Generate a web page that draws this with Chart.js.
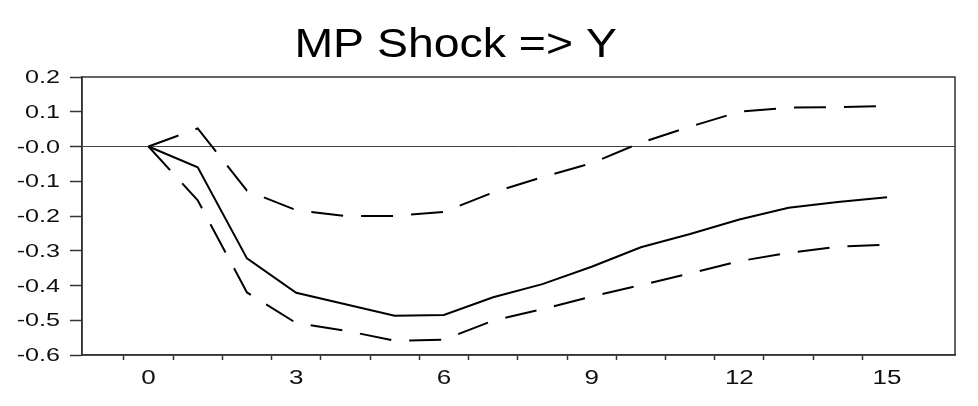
<!DOCTYPE html>
<html lang="es">
<head>
<meta charset="utf-8">
<title>MP Shock => Y</title>
<script src="https://cdn.jsdelivr.net/npm/chart.js@4/dist/chart.umd.min.js"></script>
<style>
    html, body { margin: 0; padding: 0; background: #ffffff; }
    #contenedor { width: 978px; height: 406px; position: relative; }
</style>
</head>
<body>
<div id="contenedor">
    <canvas id="grafico-impulso"></canvas>
</div>
<script>
// Datos de la función impulso-respuesta
const periodos = [0, 1, 2, 3, 4, 5, 6, 7, 8, 9, 10, 11, 12, 13, 14, 15];
const respuestaY = [0, -0.060, -0.322, -0.421, -0.454, -0.487, -0.485, -0.434,
    -0.396, -0.346, -0.290, -0.252, -0.210, -0.176, -0.160, -0.146];
const bandaSuperior = [0, 0.052, -0.127, -0.183, -0.200, -0.200, -0.188, -0.132,
    -0.088, -0.048, 0.011, 0.057, 0.100, 0.112, 0.113, 0.117];
const bandaInferior = [0, -0.155, -0.420, -0.508, -0.530, -0.559, -0.556, -0.501,
    -0.468, -0.432, -0.399, -0.365, -0.330, -0.306, -0.288, -0.283];

// Etiquetas de los ejes
const etiquetasX = [0, 3, 6, 9, 12, 15];
const marcasX = [-0.5, 0.5, 1.5, 2.5, 3.5, 4.5, 5.5, 6.5, 7.5, 8.5, 9.5, 10.5, 11.5, 12.5, 13.5, 14.5];
const tituloGrafico = 'MP Shock => Y';

const colorEje = '#333333';
const familia = '"Liberation Sans", Arial, sans-serif';

// Convierte una serie en puntos {x, y}
function aPuntos(serie) {
    return periodos.map((p, i) => ({ x: p, y: serie[i] }));
}

// Escribe un texto estirado horizontalmente (el original está estirado a lo ancho)
function textoEstirado(ctx, texto, x, y, factor, alinear) {
    ctx.save();
    ctx.translate(x, y);
    ctx.scale(factor, 1);
    ctx.textAlign = alinear;
    ctx.fillText(texto, 0, 0);
    ctx.restore();
}

// Plugin: marco, título y etiquetas de los ejes
const pluginMarco = {
    id: 'marco',
    afterDraw(chart) {
        const { ctx, chartArea, scales } = chart;
        ctx.save();
        ctx.strokeStyle = colorEje;
        ctx.lineWidth = 1.5;
        ctx.strokeRect(chartArea.left, chartArea.top, chartArea.width, chartArea.height);

        // Título
        ctx.fillStyle = '#000000';
        ctx.font = '40px ' + familia;
        ctx.textBaseline = 'alphabetic';
        textoEstirado(ctx, tituloGrafico, chartArea.left + chartArea.width * 0.428, 57, 1.16, 'center');

        // Etiquetas del eje Y (a partir de los ticks de la escala)
        ctx.fillStyle = '#111111';
        ctx.font = '18.5px ' + familia;
        ctx.textBaseline = 'middle';
        const xDerecha = chartArea.left - 12 - 10;
        scales.y.ticks.forEach(t => {
            const texto = Math.abs(t.value) < 1e-9 ? '-0.0' : t.value.toFixed(1);
            textoEstirado(ctx, texto, xDerecha, scales.y.getPixelForValue(t.value) + 1, 1.36, 'right');
        });

        // Etiquetas del eje X
        ctx.font = '20px ' + familia;
        etiquetasX.forEach(v => {
            textoEstirado(ctx, String(v), scales.x.getPixelForValue(v), chartArea.bottom + 23, 1.3, 'center');
        });
        ctx.restore();
    }
};

function crearGraficoImpulso() {
    const ctx = document.getElementById('grafico-impulso');
    const estiloBanda = {
        borderColor: '#000000',
        borderWidth: 2,
        borderDash: [32, 18],
        pointRadius: 0,
        tension: 0,
        fill: false
    };
    return new Chart(ctx, {
        type: 'line',
        data: {
            datasets: [
                Object.assign({ label: 'Banda superior', data: aPuntos(bandaSuperior) }, estiloBanda),
                {
                    label: 'Respuesta',
                    data: aPuntos(respuestaY),
                    borderColor: '#000000',
                    borderWidth: 2,
                    pointRadius: 0,
                    tension: 0,
                    fill: false
                },
                Object.assign({ label: 'Banda inferior', data: aPuntos(bandaInferior) }, estiloBanda)
            ]
        },
        options: {
            responsive: true,
            maintainAspectRatio: false,
            animation: false,
            layout: { padding: { left: 0, right: 23, top: 77, bottom: 0 } },
            plugins: {
                title: { display: false },
                legend: { display: false },
                tooltip: { enabled: false }
            },
            scales: {
                x: {
                    type: 'linear',
                    min: -1.35,
                    max: 16.38,
                    afterBuildTicks(scale) {
                        const valores = marcasX.concat(etiquetasX).sort((a, b) => a - b);
                        scale.ticks = valores.map(v => ({ value: v }));
                    },
                    afterFit(scale) { scale.height = 51; },
                    grid: {
                        drawOnChartArea: false,
                        drawTicks: true,
                        tickLength: 5,
                        tickWidth: 1.5,
                        tickColor: (c) => Number.isInteger(c.tick.value) ? 'rgba(0,0,0,0)' : colorEje
                    },
                    border: { display: true, color: colorEje, width: 1.5 },
                    // las etiquetas las dibuja el plugin (estiradas)
                    ticks: { autoSkip: false, maxRotation: 0, color: 'rgba(0,0,0,0)', callback: () => '' }
                },
                y: {
                    min: -0.6,
                    max: 0.2,
                    afterFit(scale) { scale.width = 82; },
                    grid: {
                        drawOnChartArea: true,
                        drawTicks: true,
                        tickLength: 12,
                        tickWidth: 1.5,
                        tickColor: colorEje,
                        lineWidth: 1,
                        color: (c) => Math.abs(c.tick.value) < 1e-9 ? '#444444' : 'rgba(0,0,0,0)'
                    },
                    border: { display: true, color: colorEje, width: 1.5 },
                    ticks: { stepSize: 0.1, color: 'rgba(0,0,0,0)' }
                }
            }
        },
        plugins: [pluginMarco]
    });
}

crearGraficoImpulso();
</script>
</body>
</html>
